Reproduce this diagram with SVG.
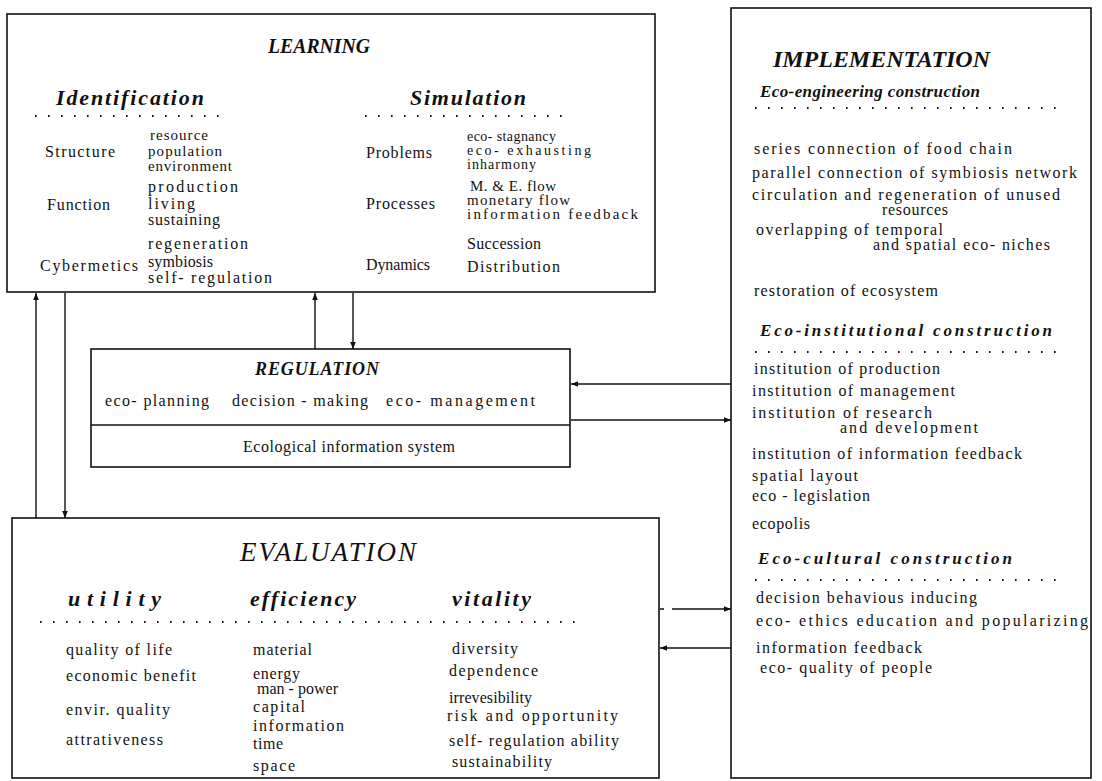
<svg xmlns="http://www.w3.org/2000/svg" width="1102" height="781" viewBox="0 0 1102 781">
<defs>
<marker id="ah" viewBox="0 0 10 10" refX="10" refY="5" markerWidth="7" markerHeight="7" orient="auto-start-reverse" markerUnits="userSpaceOnUse">
<path d="M0,1 L10,5 L0,9 Z" fill="#111"/>
</marker>
<style>
.box{fill:none;stroke:#111;stroke-width:1.6}
.ln{fill:none;stroke:#111;stroke-width:1.4}
.dot{fill:none;stroke:#111;stroke-width:2;stroke-dasharray:1.6 11.4}
text{font-family:"Liberation Serif","Times New Roman",serif;fill:#111}
.t{font-size:16px}
.m{font-size:15px}
.sm{font-size:14px}
.h{font-size:22px;font-weight:bold;font-style:italic}
.s{font-size:17px;font-weight:bold;font-style:italic}
.big{font-size:27px;font-style:italic}
</style>
</defs>
<rect width="1102" height="781" fill="#fff"/>

<g id="learning">
<rect class="box" x="7" y="14" width="648" height="278"/>
<text class="h" x="268" y="53" style="font-size:20px" textLength="102" lengthAdjust="spacingAndGlyphs">LEARNING</text>
<text class="h" x="56" y="105" textLength="148" lengthAdjust="spacing">Identification</text>
<line class="dot" x1="35" y1="116" x2="226" y2="116"/>
<text class="h" x="410" y="105" textLength="116" lengthAdjust="spacing">Simulation</text>
<line class="dot" x1="365" y1="116" x2="568" y2="116"/>
<text class="t" x="45" y="157" textLength="70" lengthAdjust="spacing">Structure</text>
<text class="m" x="150" y="140" textLength="58" lengthAdjust="spacing">resource</text>
<text class="m" x="148" y="156" textLength="74" lengthAdjust="spacing">population</text>
<text class="m" x="148" y="171" textLength="84" lengthAdjust="spacing">environment</text>
<text class="t" x="47" y="210" textLength="63" lengthAdjust="spacing">Function</text>
<text class="t" x="148" y="192" textLength="90" lengthAdjust="spacing">production</text>
<text class="t" x="148" y="209" textLength="47" lengthAdjust="spacing">living</text>
<text class="t" x="148" y="225" textLength="72" lengthAdjust="spacing">sustaining</text>
<text class="t" x="40" y="271" textLength="98" lengthAdjust="spacing">Cybermetics</text>
<text class="t" x="148" y="249" textLength="100" lengthAdjust="spacing">regeneration</text>
<text class="t" x="148" y="267" textLength="65" lengthAdjust="spacing">symbiosis</text>
<text class="t" x="148" y="283" textLength="124" lengthAdjust="spacing">self- regulation</text>
<text class="t" x="366" y="158" textLength="66" lengthAdjust="spacing">Problems</text>
<text class="sm" x="467" y="141" textLength="89" lengthAdjust="spacing">eco- stagnancy</text>
<text class="sm" x="467" y="155" textLength="124" lengthAdjust="spacing">eco- exhausting</text>
<text class="sm" x="467" y="169" textLength="69" lengthAdjust="spacing">inharmony</text>
<text class="t" x="366" y="209" textLength="69" lengthAdjust="spacing">Processes</text>
<text class="m" x="470" y="191" textLength="86" lengthAdjust="spacing">M. &amp; E. flow</text>
<text class="m" x="467" y="205" textLength="103" lengthAdjust="spacing">monetary flow</text>
<text class="m" x="467" y="219" textLength="171" lengthAdjust="spacing">information  feedback</text>
<text class="t" x="366" y="270" textLength="64" lengthAdjust="spacing">Dynamics</text>
<text class="t" x="467" y="249" textLength="74" lengthAdjust="spacing">Succession</text>
<text class="t" x="467" y="272" textLength="93" lengthAdjust="spacing">Distribution</text>
</g>

<g id="regulation">
<rect class="box" x="91" y="349" width="479" height="118"/>
<line class="ln" x1="91" y1="425" x2="570" y2="425"/>
<text class="s" x="255" y="375" style="font-size:18px" textLength="124" lengthAdjust="spacing">REGULATION</text>
<text class="t" x="105" y="406" textLength="104" lengthAdjust="spacing">eco- planning</text>
<text class="t" x="232" y="406" textLength="136" lengthAdjust="spacing">decision -  making</text>
<text class="t" x="386" y="406" textLength="149" lengthAdjust="spacing">eco- management</text>
<text class="t" x="243" y="452" textLength="212" lengthAdjust="spacing">Ecological information system</text>
</g>

<g id="implementation">
<rect class="box" x="731" y="8" width="360" height="770"/>
<text class="h" x="773" y="67" style="font-size:24px" textLength="217" lengthAdjust="spacing">IMPLEMENTATION</text>
<text class="s" x="760" y="97" textLength="220" lengthAdjust="spacing">Eco-engineering construction</text>
<line class="dot" x1="755" y1="108" x2="1058" y2="108"/>
<text class="t" x="754" y="154" textLength="258" lengthAdjust="spacing">series connection of food chain</text>
<text class="t" x="752" y="178" textLength="325" lengthAdjust="spacing">parallel connection of symbiosis network</text>
<text class="t" x="752" y="200" textLength="308" lengthAdjust="spacing">circulation and regeneration of unused</text>
<text class="t" x="882" y="215" textLength="66" lengthAdjust="spacing">resources</text>
<text class="t" x="756" y="235" textLength="187" lengthAdjust="spacing">overlapping of temporal</text>
<text class="t" x="873" y="250" textLength="177" lengthAdjust="spacing">and spatial eco- niches</text>
<text class="t" x="754" y="296" textLength="184" lengthAdjust="spacing">restoration of ecosystem</text>
<text class="s" x="760" y="336" textLength="292" lengthAdjust="spacing">Eco-institutional construction</text>
<line class="dot" x1="755" y1="352" x2="1058" y2="352"/>
<text class="t" x="754" y="374" textLength="186" lengthAdjust="spacing">institution of production</text>
<text class="t" x="752" y="396" textLength="203" lengthAdjust="spacing">institution of management</text>
<text class="t" x="752" y="418" textLength="180" lengthAdjust="spacing">institution of  research</text>
<text class="t" x="840" y="433" textLength="138" lengthAdjust="spacing">and  development</text>
<text class="t" x="752" y="459" textLength="270" lengthAdjust="spacing">institution of information feedback</text>
<text class="t" x="752" y="481" textLength="106" lengthAdjust="spacing">spatial layout</text>
<text class="t" x="752" y="501" textLength="118" lengthAdjust="spacing">eco - legislation</text>
<text class="t" x="752" y="529" textLength="58" lengthAdjust="spacing">ecopolis</text>
<text class="s" x="758" y="564" textLength="254" lengthAdjust="spacing">Eco-cultural construction</text>
<line class="dot" x1="755" y1="580" x2="1058" y2="580"/>
<text class="t" x="756" y="603" textLength="221" lengthAdjust="spacing">decision  behavious inducing</text>
<text class="t" x="756" y="626" textLength="332" lengthAdjust="spacing">eco- ethics education and popularizing</text>
<text class="t" x="756" y="653" textLength="166" lengthAdjust="spacing">information feedback</text>
<text class="t" x="760" y="673" textLength="172" lengthAdjust="spacing">eco- quality of people</text>
</g>

<g id="evaluation">
<rect class="box" x="12" y="518" width="647" height="260"/>
<text class="big" x="240" y="561" textLength="176" lengthAdjust="spacing">EVALUATION</text>
<text class="h" x="68" y="606" textLength="93" lengthAdjust="spacing">utility</text>
<text class="h" x="250" y="606" textLength="106" lengthAdjust="spacing">efficiency</text>
<text class="h" x="452" y="606" textLength="79" lengthAdjust="spacing">vitality</text>
<line class="dot" x1="40" y1="622" x2="584" y2="622"/>
<text class="t" x="66" y="655" textLength="106" lengthAdjust="spacing">quality of life</text>
<text class="t" x="66" y="681" textLength="130" lengthAdjust="spacing">economic benefit</text>
<text class="t" x="66" y="715" textLength="104" lengthAdjust="spacing">envir. quality</text>
<text class="t" x="66" y="745" textLength="97" lengthAdjust="spacing">attrativeness</text>
<text class="t" x="253" y="655" textLength="59" lengthAdjust="spacing">material</text>
<text class="t" x="253" y="679" textLength="47" lengthAdjust="spacing">energy</text>
<text class="t" x="257" y="694" textLength="81" lengthAdjust="spacing">man - power</text>
<text class="t" x="253" y="712" textLength="52" lengthAdjust="spacing">capital</text>
<text class="t" x="253" y="731" textLength="91" lengthAdjust="spacing">information</text>
<text class="t" x="253" y="749" textLength="30" lengthAdjust="spacing">time</text>
<text class="t" x="253" y="771" textLength="42" lengthAdjust="spacing">space</text>
<text class="t" x="452" y="654" textLength="66" lengthAdjust="spacing">diversity</text>
<text class="t" x="449" y="676" textLength="89" lengthAdjust="spacing">dependence</text>
<text class="t" x="449" y="703" textLength="83" lengthAdjust="spacing">irrevesibility</text>
<text class="t" x="447" y="721" textLength="171" lengthAdjust="spacing">risk and  opportunity</text>
<text class="t" x="449" y="746" textLength="170" lengthAdjust="spacing">self- regulation ability</text>
<text class="t" x="452" y="767" textLength="100" lengthAdjust="spacing">sustainability</text>
</g>

<g id="connectors">
<line class="ln" x1="36" y1="518" x2="36" y2="293" marker-end="url(#ah)"/>
<line class="ln" x1="65" y1="293" x2="65" y2="518" marker-end="url(#ah)"/>
<line class="ln" x1="315" y1="349" x2="315" y2="293" marker-end="url(#ah)"/>
<line class="ln" x1="353" y1="293" x2="353" y2="349" marker-end="url(#ah)"/>
<line class="ln" x1="731" y1="384" x2="571" y2="384" marker-end="url(#ah)"/>
<line class="ln" x1="571" y1="420" x2="731" y2="420" marker-end="url(#ah)"/>
<line class="ln" x1="660" y1="609" x2="731" y2="609" stroke-dasharray="4 8 200" marker-end="url(#ah)"/>
<line class="ln" x1="731" y1="648" x2="660" y2="648" marker-end="url(#ah)"/>
</g>
</svg>
